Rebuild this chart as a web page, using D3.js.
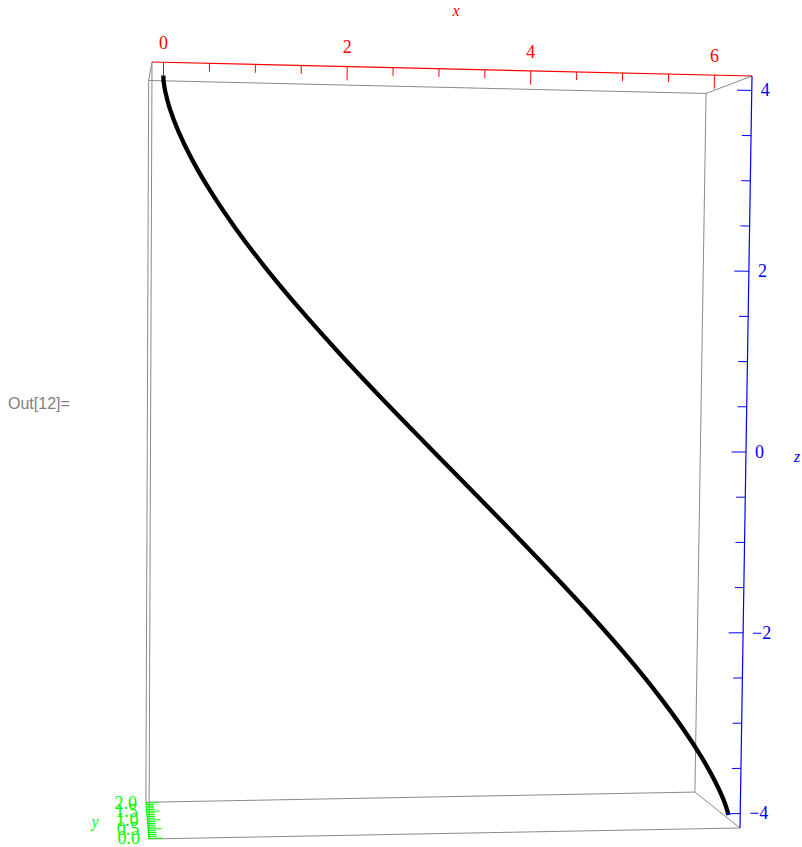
<!DOCTYPE html>
<html><head><meta charset="utf-8">
<script src="https://cdn.jsdelivr.net/npm/d3@7"></script>
<style>body{margin:0;background:#fff}svg{display:block}</style>
</head><body>
<svg id="chart" width="802" height="847"></svg>
<script>
// ---- data (curve samples) ----
const curveX = [0, 0.003, 0.024, 0.078, 0.181, 0.343, 0.571, 0.867, 1.228, 1.649, 2.118, 2.621, 3.142,
                3.662, 4.165, 4.634, 5.055, 5.417, 5.712, 5.940, 6.102, 6.205, 6.260, 6.280, 6.283];
const curveY = [0, 0.034, 0.134, 0.293, 0.5, 0.741, 1.0, 1.259, 1.5, 1.707, 1.866, 1.966, 2.0,
                1.966, 1.866, 1.707, 1.5, 1.259, 1.0, 0.741, 0.5, 0.293, 0.134, 0.034, 0];
const curveZ = [4.0, 3.966, 3.864, 3.696, 3.464, 3.173, 2.828, 2.435, 2.0, 1.531, 1.035, 0.522, 0,
                -0.522, -1.035, -1.531, -2.0, -2.435, -2.828, -3.173, -3.464, -3.696, -3.864, -3.966, -4.0];
const xMajor = [0, 2, 4, 6];
const xMinor = [0.5, 1, 1.5, 2.5, 3, 3.5, 4.5, 5, 5.5];
const zMajor = [-4, -2, 0, 2, 4];
const zMinor = [-3.5, -3, -2.5, -1.5, -1, -0.5, 0.5, 1, 1.5, 2.5, 3, 3.5];
const yMajor = [0, 0.5, 1, 1.5, 2];
const yMinor = [0.1, 0.2, 0.3, 0.4, 0.6, 0.7, 0.8, 0.9, 1.1, 1.2, 1.3, 1.4, 1.6, 1.7, 1.8, 1.9];
const yLabels = ["0.0", "0.5", "1.0", "1.5", "2.0"];
const xDomain = [-0.1257, 6.4089], yDomain = [-0.04, 2.04], zDomain = [-4.16, 4.16];

// ---- projection (front face + perspective depth) ----
const uS = d3.scaleLinear().domain(xDomain).range([0, 1]);
const vS = d3.scaleLinear().domain([zDomain[1], zDomain[0]]).range([0, 1]);
const dS = d3.scaleLinear().domain(yDomain).range([0, 1]);
const F = {tl: [152, 62], tr: [752, 76], br: [740, 828], bl: [149, 839]};
const VP = [105, 322], depthK = 1 / 0.929 - 1;
function proj(x, y, z) {
  const u = uS(x), v = vS(z), d = dS(y);
  const top = [F.tl[0] + u * (F.tr[0] - F.tl[0]), F.tl[1] + u * (F.tr[1] - F.tl[1])];
  const bot = [F.bl[0] + u * (F.br[0] - F.bl[0]), F.bl[1] + u * (F.br[1] - F.bl[1])];
  const p = [top[0] + v * (bot[0] - top[0]), top[1] + v * (bot[1] - top[1])];
  const k = 1 / (1 + depthK * d);
  return [VP[0] + (p[0] - VP[0]) * k, VP[1] + (p[1] - VP[1]) * k];
}

const svg = d3.select("#chart");
const serif = "'Liberation Serif','Times New Roman',serif";
const [x0, x1] = xDomain, [y0, y1] = yDomain, [z0, z1] = zDomain;

function seg(a, b, color, w) {
  const p = proj(...a), q = proj(...b);
  svg.append("line").attr("x1", p[0]).attr("y1", p[1]).attr("x2", q[0]).attr("y2", q[1])
    .attr("stroke", color).attr("stroke-width", w || 1);
}

// ---- box edges (grey) ----
const grey = "#8a8a8a";
[
  [[x0, y1, z1], [x1, y1, z1]], [[x1, y1, z1], [x1, y1, z0]], [[x1, y1, z0], [x0, y1, z0]], [[x0, y1, z0], [x0, y1, z1]],
  [[x0, y0, z1], [x0, y0, z0]], [[x0, y0, z0], [x1, y0, z0]],
  [[x0, y0, z1], [x0, y1, z1]], [[x1, y0, z1], [x1, y1, z1]], [[x1, y0, z0], [x1, y1, z0]]
].forEach(e => seg(e[0], e[1], grey, 1));

// ---- curve ----
const pts = curveX.map((x, i) => proj(x, curveY[i], curveZ[i]));
svg.append("path").attr("d", d3.line().curve(d3.curveCatmullRom)(pts))
  .attr("fill", "none").attr("stroke", "#000").attr("stroke-width", 4.3)
  .attr("stroke-linecap", "square").attr("stroke-linejoin", "round");

// ---- x axis (red) ----
const red = "#ff0000";
seg([x0, y0, z1], [x1, y0, z1], red, 1.2);
xMajor.forEach(t => seg([t, y0, z1], [t, y0, z1 - 0.15], red, 1));
xMinor.forEach(t => seg([t, y0, z1], [t, y0, z1 - 0.09], red, 1));
xMajor.forEach(t => {
  const p = proj(t, y0, z1);
  svg.append("text").attr("x", p[0]).attr("y", p[1] - 19).attr("dy", "0.33em")
    .attr("text-anchor", "middle").attr("font-family", serif).attr("font-size", 18)
    .attr("fill", red).text(d3.format("d")(t));
});
svg.append("text").attr("x", 456).attr("y", 16).attr("text-anchor", "middle")
  .attr("font-family", serif).attr("font-style", "italic").attr("font-size", 16)
  .attr("fill", red).text("x");

// ---- z axis (blue) ----
const blue = "#0000ff";
seg([x1, y0, z1], [x1, y0, z0], blue, 1.2);
zMajor.forEach(t => seg([x1, y0, t], [x1 - 0.16, y0, t], blue, 1));
zMinor.forEach(t => seg([x1, y0, t], [x1 - 0.1, y0, t], blue, 1));
zMajor.forEach(t => {
  const p = proj(x1, y0, t);
  svg.append("text").attr("x", p[0] + 9).attr("y", p[1]).attr("dy", "0.33em")
    .attr("text-anchor", "start").attr("font-family", serif).attr("font-size", 18)
    .attr("fill", blue).text(t < 0 ? "\u2212" + Math.abs(t) : String(t));
});
svg.append("text").attr("x", 797).attr("y", 462).attr("text-anchor", "middle")
  .attr("font-family", serif).attr("font-style", "italic").attr("font-size", 16)
  .attr("fill", blue).text("z");

// ---- y axis (green) ----
const green = "#00ff00";
seg([x0, y0, z0], [x0, y1, z0], green, 1.2);
yMajor.forEach(t => seg([x0, t, z0], [x0 + 0.15, t, z0], green, 1));
yMinor.forEach(t => seg([x0, t, z0], [x0 + 0.09, t, z0], green, 1));
yMajor.forEach((t, i) => {
  const p = proj(x0, t, z0);
  svg.append("text").attr("x", p[0] - 9).attr("y", p[1]).attr("dy", "0.33em")
    .attr("text-anchor", "end").attr("font-family", serif).attr("font-size", 18)
    .attr("fill", green).text(yLabels[i]);
});
svg.append("text").attr("x", 95).attr("y", 827).attr("text-anchor", "middle")
  .attr("font-family", serif).attr("font-style", "italic").attr("font-size", 16)
  .attr("fill", green).text("y");

// ---- cell label ----
svg.append("text").attr("x", 8).attr("y", 409).attr("font-family", "'Liberation Sans',Arial,sans-serif")
  .attr("font-size", 16).attr("fill", "#808080").text("Out[12]=");
</script>
</body></html>
